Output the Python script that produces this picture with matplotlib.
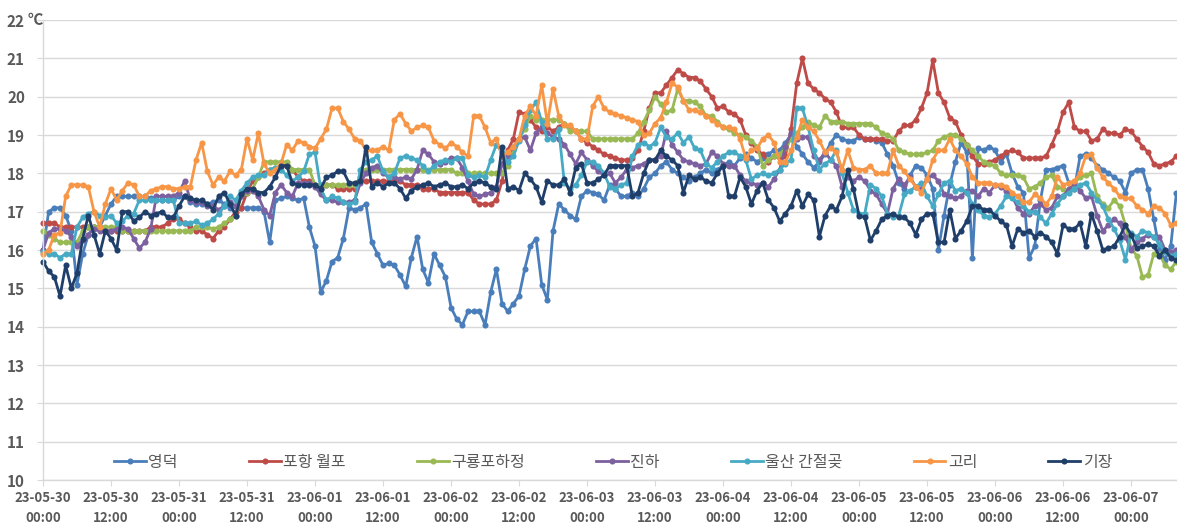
import numpy as np
import matplotlib
matplotlib.use("Agg")
import matplotlib.pyplot as plt

plt.rcParams['font.family'] = ['Noto Sans CJK KR', 'DejaVu Sans']

# ---------------- data (hourly water temperature, deg C) ----------------
series_names = ["영덕", "포항 월포", "구룡포하정", "진하", "울산 간절곶", "고리", "기장"]

yeongdeok = [
    16.0, 17.0, 17.1, 17.1, 16.9, 16.5, 15.1, 15.9, 16.4, 16.6,
    16.6, 16.9, 17.2, 17.4, 17.4, 17.4, 17.4, 17.4, 17.4, 17.35,
    17.3, 17.3, 17.3, 17.3, 17.4, 17.4, 17.25, 17.2, 17.2, 17.2,
    17.25, 17.3, 17.2, 17.1, 17.15, 17.1, 17.1, 17.1, 17.1, 17.0,
    16.2, 17.3, 17.35, 17.4, 17.35, 17.3, 17.35, 16.6, 16.1, 14.9,
    15.2, 15.7, 15.8, 16.3, 17.1, 17.05, 17.1, 17.2, 16.2, 15.9,
    15.6, 15.65, 15.6, 15.35, 15.05, 15.8, 16.35, 15.5, 15.15, 15.9,
    15.6, 15.3, 14.5, 14.2, 14.05, 14.4, 14.4, 14.4, 14.05, 14.9,
    15.5, 14.6, 14.4, 14.6, 14.8, 15.5, 16.1, 16.3, 15.1, 14.7,
    16.5, 17.2, 17.05, 16.9, 16.8, 17.4, 17.55, 17.5, 17.45, 17.3,
    17.7, 17.6, 17.4, 17.4, 17.5, 17.4, 17.6, 17.9, 18.0, 18.2,
    18.3, 18.1, 18.0, 17.9, 17.8, 17.9, 18.0, 18.1, 18.0, 18.1,
    18.2, 18.3, 18.2, 18.4, 18.5, 18.4, 18.3, 18.4, 18.5, 18.6,
    18.6, 18.8, 19.0, 18.7, 18.5, 18.3, 18.15, 18.3, 18.5, 18.8,
    19.0, 18.9, 18.85, 18.85, 18.95, 18.9, 18.9, 18.85, 18.8, 18.5,
    18.2, 17.75, 17.6, 17.95, 18.2, 18.15, 17.95, 17.6, 16.0, 16.9,
    17.7, 18.3, 18.8, 18.55, 15.8, 18.65, 18.6, 18.7, 18.6, 18.3,
    18.5, 18.0, 17.65, 17.5, 15.8, 16.1, 17.3, 18.1, 18.1, 18.15,
    18.2, 17.75, 17.6, 18.45, 18.5, 18.4, 18.2, 18.1, 18.0, 17.9,
    17.8, 17.5, 18.0, 18.1, 18.1, 17.6, 16.8, 16.0, 15.75, 16.1, 17.5]

pohang_wolpo = [
    16.7, 16.7, 16.7, 16.6, 16.6, 16.6, 16.6, 16.6, 16.6, 16.6,
    16.6, 16.5, 16.5, 16.5, 16.5, 16.5, 16.5, 16.5, 16.5, 16.6,
    16.6, 16.6, 16.7, 16.8, 16.8, 16.7, 16.6, 16.5, 16.5, 16.4,
    16.3, 16.5, 16.6, 16.8, 17.0, 17.1, 17.5, 17.8, 17.9, 18.0,
    18.1, 18.1, 18.2, 18.2, 18.1, 17.9, 17.8, 17.8, 17.7, 17.7,
    17.7, 17.7, 17.6, 17.6, 17.6, 17.6, 17.8, 17.8, 17.8, 17.8,
    17.8, 17.8, 17.8, 17.8, 17.7, 17.7, 17.7, 17.6, 17.6, 17.6,
    17.5, 17.5, 17.5, 17.5, 17.5, 17.5, 17.3, 17.2, 17.2, 17.2,
    17.3, 17.8, 18.6, 18.9, 19.6, 19.55, 19.4, 19.2, 19.1, 19.2,
    19.1, 19.2, 19.3, 19.2, 19.1, 18.9, 18.8, 18.7, 18.6, 18.5,
    18.45, 18.4, 18.35, 18.35, 18.4, 18.6, 19.1, 19.7, 20.1, 20.1,
    20.3, 20.5, 20.7, 20.6, 20.5, 20.5, 20.4, 20.2, 20.0, 19.7,
    19.75, 19.6, 19.55, 19.4, 19.0, 18.8, 18.6, 18.5, 18.3, 18.45,
    18.4, 18.45, 19.15, 20.35, 21.0, 20.35, 20.2, 20.1, 19.95, 19.85,
    19.6, 19.2, 19.2, 19.2, 19.0, 18.9, 18.9, 18.9, 18.9, 18.85,
    18.85, 19.1, 19.25, 19.25, 19.4, 19.7, 20.1, 20.95, 20.1, 19.85,
    19.45, 19.35, 19.0, 18.75, 18.45, 18.25, 18.25, 18.3, 18.35, 18.45,
    18.55, 18.6, 18.55, 18.4, 18.4, 18.4, 18.4, 18.45, 18.75, 19.1,
    19.6, 19.85, 19.2, 19.1, 19.1, 18.85, 18.9, 19.15, 19.05, 19.05,
    19.0, 19.15, 19.1, 18.9, 18.7, 18.55, 18.25, 18.2, 18.25, 18.3, 18.45]

guryongpo = [
    16.5, 16.4, 16.3, 16.2, 16.2, 16.2, 16.2, 16.5, 16.6, 16.6,
    16.6, 16.6, 16.6, 16.6, 16.5, 16.5, 16.5, 16.5, 16.5, 16.5,
    16.5, 16.5, 16.5, 16.5, 16.5, 16.5, 16.5, 16.6, 16.6, 16.6,
    16.55, 16.6, 16.7, 16.8, 16.9, 17.4, 17.5, 17.6, 17.9, 18.3,
    18.3, 18.3, 18.3, 18.3, 18.1, 18.1, 18.1, 18.1, 17.7, 17.7,
    17.7, 17.7, 17.7, 17.7, 17.7, 17.7, 17.9, 18.1, 18.1, 18.1,
    18.1, 18.1, 18.1, 18.1, 18.1, 18.1, 18.1, 18.1, 18.1, 18.1,
    18.1, 18.1, 18.1, 18.0, 18.0, 18.0, 18.0, 18.0, 18.0, 18.0,
    18.0, 18.0, 18.2, 18.6, 18.9, 19.15, 19.5, 19.4, 19.4, 19.4,
    19.4, 19.4, 19.3, 19.1, 19.1, 19.1, 19.1, 18.9, 18.9, 18.9,
    18.9, 18.9, 18.9, 18.9, 18.9, 19.05, 19.35, 19.65, 20.0, 19.8,
    19.6, 19.65, 20.2, 19.9, 19.9, 19.85, 19.75, 19.5, 19.5, 19.35,
    19.2, 19.15, 19.05, 19.0, 18.95, 18.85, 18.7, 18.2, 18.35, 18.45,
    18.5, 18.65, 18.9, 19.05, 19.2, 19.35, 19.25, 19.2, 19.5, 19.35,
    19.35, 19.35, 19.3, 19.3, 19.3, 19.3, 19.3, 19.2, 19.05, 19.0,
    18.9, 18.6, 18.55, 18.5, 18.5, 18.5, 18.55, 18.6, 18.85, 18.95,
    19.0, 19.0, 18.9, 18.75, 18.6, 18.45, 18.3, 18.25, 18.2, 18.0,
    17.95, 17.95, 17.95, 17.9, 17.6, 17.65, 17.75, 17.9, 17.95, 17.65,
    17.6, 17.55, 17.75, 17.9, 17.95, 18.0, 17.4, 17.2, 17.1, 17.3,
    17.15, 16.65, 16.05, 15.85, 15.3, 15.35, 15.9, 15.9, 15.6, 15.5, 15.7]

jinha = [
    16.0, 16.45, 16.55, 16.55, 16.5, 16.35, 16.1, 16.25, 16.4, 16.55,
    16.5, 16.5, 16.5, 16.55, 16.6, 16.55, 16.3, 16.05, 16.2, 16.55,
    17.4, 17.4, 17.4, 17.4, 17.5, 17.8, 17.3, 17.25, 17.25, 17.15,
    17.15, 17.05, 17.15, 17.25, 17.15, 17.4, 17.55, 17.55, 17.4, 17.05,
    16.9, 17.5, 17.7, 17.5, 17.4, 17.75, 17.75, 17.75, 17.65, 17.45,
    17.3, 17.3, 17.25, 17.25, 17.25, 17.3, 17.75, 18.0, 18.15, 18.2,
    18.0, 17.9, 17.9, 17.85, 17.9, 17.85, 18.1, 18.6, 18.5, 18.3,
    18.25, 18.3, 18.4, 18.4, 18.15, 17.8, 17.45, 17.4, 17.45, 17.5,
    17.65, 18.25, 18.45, 18.7, 18.9, 18.95, 18.6, 19.05, 19.2, 19.05,
    18.95, 18.9, 18.75, 18.5, 18.25, 18.55, 18.35, 18.2, 18.05, 17.95,
    18.0, 17.75, 17.9, 18.1, 18.15, 18.2, 18.25, 18.35, 18.35, 18.45,
    19.1, 18.75, 18.55, 18.35, 18.3, 18.25, 18.2, 18.25, 18.55, 18.45,
    18.25, 18.2, 18.2, 17.95, 17.8, 17.75, 17.7, 17.75, 17.65, 17.85,
    18.1, 18.7, 19.05, 18.9, 18.95, 18.95, 18.45, 18.35, 18.55, 18.35,
    18.2, 17.65, 17.9, 17.8, 17.9, 17.8, 17.55, 17.45, 17.2, 16.95,
    17.6, 17.85, 17.7, 17.9, 17.65, 17.6, 17.85, 17.95, 17.8, 17.45,
    17.4, 17.35, 17.4, 17.55, 17.55, 17.4, 17.6, 17.5, 17.7, 17.65,
    17.55, 17.4, 17.1, 16.95, 16.95, 17.15, 17.2, 17.05, 17.1, 17.4,
    17.4, 17.6, 17.75, 17.55, 17.35, 17.4, 16.9, 16.5, 16.65, 16.8,
    16.7, 16.35, 16.0, 16.2, 16.3, 16.4, 16.35, 16.35, 16.0, 15.95, 16.0]

ulsan_ganjeolgot = [
    15.95, 15.9, 15.9, 15.8, 15.9, 15.9, 16.6, 16.85, 16.95, 17.0,
    16.9, 16.85, 16.9, 16.7, 16.75, 16.9, 16.95, 17.3, 17.3, 17.3,
    17.3, 17.3, 17.3, 17.3, 16.7, 16.7, 16.7, 16.75, 16.65, 16.7,
    16.8, 16.95, 17.15, 17.4, 17.3, 17.55, 17.75, 17.9, 17.95, 17.95,
    18.1, 18.15, 18.1, 17.95, 17.8, 17.9, 18.05, 18.5, 18.55, 17.6,
    17.3, 17.4, 17.35, 17.25, 17.2, 17.25, 18.1, 18.3, 18.35, 18.45,
    18.05, 17.9, 18.0, 18.4, 18.45, 18.4, 18.35, 18.2, 18.05, 18.2,
    18.3, 18.35, 18.3, 18.4, 18.4, 17.95, 17.9, 17.95, 17.9, 18.35,
    18.75, 18.55, 18.3, 18.45, 18.85, 19.25, 19.65, 19.85, 19.35, 18.9,
    18.9, 19.15, 17.75, 17.6, 17.7, 17.95, 18.3, 18.3, 18.2, 18.0,
    17.65, 17.6, 17.7, 17.75, 18.45, 18.75, 18.8, 18.7, 18.8, 19.2,
    18.95, 18.9, 19.05, 18.8, 18.95, 18.65, 18.6, 18.25, 18.15, 18.3,
    18.45, 18.55, 18.55, 18.45, 18.35, 17.85, 17.95, 18.0, 17.95, 18.0,
    18.1, 18.25, 18.35, 19.7, 19.7, 19.2, 18.6, 18.1, 18.25, 18.35,
    18.6, 18.0, 17.5, 17.05, 16.95, 16.95, 17.7, 17.6, 17.4, 16.95,
    16.85, 16.9, 17.45, 17.55, 17.65, 17.75, 17.4, 17.15, 17.45, 17.75,
    17.8, 17.55, 17.6, 17.5, 17.2, 17.05, 16.9, 16.85, 16.95, 17.15,
    17.4, 17.35, 17.25, 17.15, 17.0, 17.0, 16.85, 16.7, 16.95, 17.2,
    17.4, 17.5, 17.6, 17.7, 17.75, 17.5, 17.3, 17.15, 16.8, 16.55,
    16.25, 15.75, 16.45, 16.35, 16.5, 16.45, 16.35, 16.15, 15.95, 15.85, 15.9]

gori = [
    15.9, 16.0, 16.4, 16.45, 17.4, 17.7, 17.7, 17.7, 17.65, 17.0,
    16.6, 17.2, 17.6, 17.3, 17.55, 17.75, 17.7, 17.4, 17.4, 17.55,
    17.6, 17.65, 17.65, 17.6, 17.6, 17.65, 17.65, 18.35, 18.8, 18.05,
    17.7, 17.9, 17.8, 18.05, 17.95, 18.1, 18.9, 18.35, 19.05, 18.25,
    18.0, 18.1, 18.25, 18.75, 18.6, 18.85, 18.8, 18.7, 18.65, 18.9,
    19.15, 19.7, 19.7, 19.35, 19.15, 18.9, 18.85, 18.6, 18.6, 18.6,
    18.7, 18.6, 19.4, 19.55, 19.3, 19.1, 19.2, 19.25, 19.2, 18.85,
    18.75, 18.65, 18.8, 18.7, 18.55, 18.45, 19.5, 19.5, 19.2, 18.8,
    18.9, 18.45, 18.55, 18.7, 18.9, 19.5, 19.75, 19.5, 20.3, 19.3,
    20.2, 19.5, 19.25, 19.25, 19.1, 18.9, 18.9, 19.75, 20.0, 19.7,
    19.6, 19.55, 19.5, 19.45, 19.4, 19.35, 19.0, 19.05, 19.3, 19.45,
    19.85, 20.35, 20.25, 19.9, 19.65, 19.65, 19.6, 19.5, 19.4, 19.3,
    19.2, 19.2, 19.15, 18.9, 18.4, 18.6, 18.65, 18.9, 19.0, 18.8,
    18.3, 18.3, 18.6, 18.95, 19.4, 19.2, 19.1, 18.85, 18.55, 18.65,
    18.55, 18.1, 18.6, 18.15, 18.1, 18.1, 18.2, 18.0, 18.0, 18.0,
    18.6, 18.2, 18.05, 17.85, 17.65, 17.5, 17.85, 18.35, 18.6, 18.6,
    18.9, 18.6, 18.45, 18.25, 17.9, 17.75, 17.75, 17.75, 17.7, 17.7,
    17.65, 17.5, 17.4, 17.25, 17.25, 17.45, 17.35, 17.2, 17.4, 17.9,
    17.7, 17.75, 17.8, 18.0, 18.45, 18.5, 18.15, 17.9, 17.75, 17.6,
    17.4, 17.35, 17.35, 17.15, 17.05, 16.95, 17.15, 17.1, 16.95, 16.65, 16.7]

gijang = [
    15.7, 15.45, 15.3, 14.8, 15.6, 15.0, 15.4, 16.3, 16.9, 16.4,
    15.9, 16.5, 16.3, 16.0, 17.0, 17.0, 16.75, 16.85, 17.0, 16.9,
    16.95, 17.0, 16.85, 16.85, 17.15, 17.4, 17.35, 17.3, 17.3, 17.2,
    17.05, 17.4, 17.5, 17.2, 16.9, 17.45, 17.6, 17.6, 17.5, 17.5,
    17.65, 17.9, 18.2, 18.2, 17.75, 17.7, 17.7, 17.7, 17.7, 17.6,
    17.9, 17.95, 18.05, 18.05, 17.75, 17.75, 17.8, 18.7, 17.65, 17.75,
    17.65, 17.75, 17.75, 17.6, 17.35, 17.55, 17.65, 17.7, 17.75, 17.65,
    17.7, 17.75, 17.65, 17.65, 17.7, 17.6, 17.75, 17.8, 17.75, 17.65,
    17.6, 18.7, 17.6, 17.65, 17.55, 18.0, 17.85, 17.65, 17.25, 17.8,
    17.7, 17.7, 17.85, 17.5, 18.15, 18.25, 17.75, 17.75, 17.85, 17.95,
    18.2, 18.2, 18.2, 18.2, 17.4, 17.5, 18.0, 18.35, 18.35, 18.6,
    18.45, 18.35, 18.2, 17.5, 17.95, 17.85, 17.9, 17.8, 17.75, 18.0,
    18.2, 17.4, 17.4, 17.9, 17.65, 17.2, 17.55, 17.75, 17.3, 17.1,
    16.75, 16.95, 17.15, 17.55, 17.15, 17.45, 17.3, 16.35, 16.9, 17.15,
    17.05, 17.4, 18.1, 17.6, 16.9, 16.85, 16.25, 16.5, 16.8, 16.9,
    16.95, 16.85, 16.85, 16.7, 16.4, 16.8, 16.95, 16.95, 16.2, 16.2,
    17.05, 16.3, 16.5, 16.75, 17.15, 17.15, 17.05, 17.05, 16.9, 16.75,
    16.65, 16.1, 16.55, 16.45, 16.5, 16.35, 16.45, 16.35, 16.2, 15.9,
    16.65, 16.55, 16.55, 16.7, 16.1, 16.95, 16.5, 16.0, 16.05, 16.1,
    16.35, 16.65, 16.4, 16.05, 16.1, 16.15, 16.1, 15.85, 16.0, 15.8, 15.75]

tick_labels = ["23-05-30\n00:00", "23-05-30\n12:00", "23-05-31\n00:00", "23-05-31\n12:00",
               "23-06-01\n00:00", "23-06-01\n12:00", "23-06-02\n00:00", "23-06-02\n12:00",
               "23-06-03\n00:00", "23-06-03\n12:00", "23-06-04\n00:00", "23-06-04\n12:00",
               "23-06-05\n00:00", "23-06-05\n12:00", "23-06-06\n00:00", "23-06-06\n12:00",
               "23-06-07\n00:00"]
tick_hours = [0, 12, 24, 36, 48, 60, 72, 84, 96, 108, 120, 132, 144, 156, 168, 180, 192]
y_ticks = [10, 11, 12, 13, 14, 15, 16, 17, 18, 19, 20, 21, 22]

colors = ["#4A7EBB", "#BE4B48", "#98B954", "#7D60A0", "#46AAC5", "#F79646", "#1F3F6A"]

# ---------------- figure ----------------
W, H = 1177, 526
fig = plt.figure(figsize=(W / 100, H / 100), dpi=100)
ax = fig.add_axes([43 / W, (H - 480) / H, (W - 43) / W, 460 / H])

all_series = [yeongdeok, pohang_wolpo, guryongpo, jinha, ulsan_ganjeolgot, gori, gijang]
for name, vals, c in zip(series_names, all_series, colors):
    x = np.arange(len(vals))
    ax.plot(x, vals, color=c, lw=2.0, marker='o', ms=4.4, mew=0,
            label=name, clip_on=False, solid_joinstyle='round')

ax.set_xlim(0, 200.1)
ax.set_ylim(10, 22)
ax.set_yticks(y_ticks)
ax.set_yticklabels([str(v) for v in y_ticks])
ax.set_xticks(tick_hours)
ax.set_xticklabels(tick_labels)

grid_c = "#D9D9D9"
ax.yaxis.grid(True, color=grid_c, lw=1.0)
ax.set_axisbelow(True)
for s in ['top', 'right']:
    ax.spines[s].set_visible(False)
for s in ['left', 'bottom']:
    ax.spines[s].set_color(grid_c)
    ax.spines[s].set_linewidth(1.0)

ax.tick_params(axis='y', length=4, color=grid_c, pad=9, labelsize=11, labelcolor="#595959")
ax.tick_params(axis='x', length=4, color=grid_c, pad=4, labelsize=9.5, labelcolor="#595959")
for lab in ax.get_yticklabels():
    lab.set_fontweight('bold')
for lab in ax.get_xticklabels():
    lab.set_linespacing(1.5)
    lab.set_fontweight('bold')

fig.text(28 / W, 1 - 20 / H, "℃", fontsize=11, color="#595959", ha='left', va='center',
         fontweight='bold')

leg = ax.legend(loc='center', bbox_to_anchor=((613 - 43) / (W - 43), (480 - 462) / 460),
                ncol=7, frameon=False, fontsize=11.5, handlelength=2.0, handletextpad=0.15,
                columnspacing=4.45, numpoints=1)
for t in leg.get_texts():
    t.set_color("#595959")

fig.savefig("out.png", dpi=100)
